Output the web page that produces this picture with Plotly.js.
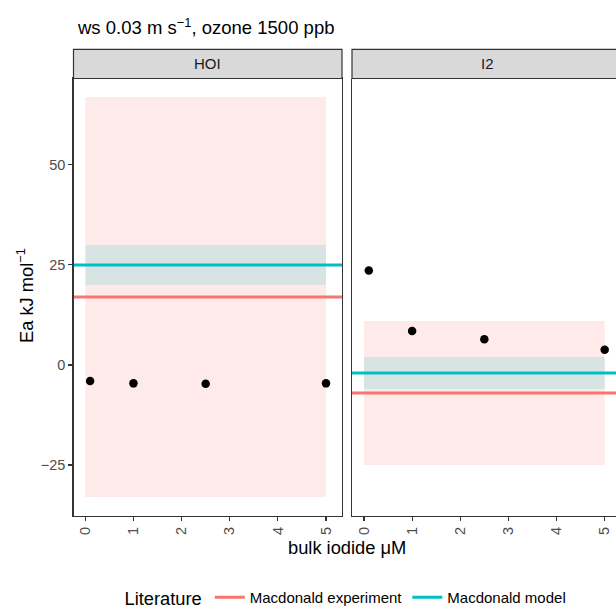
<!DOCTYPE html>
<html>
<head>
<meta charset="utf-8">
<script src="https://cdn.plot.ly/plotly-3.0.1.min.js"></script>
<style>
html,body{margin:0;padding:0;overflow:hidden;background:#fff;}
#chart{width:616px;height:608px;}
</style>
</head>
<body>
<div id="chart"></div>
<script>
// ---- data ----
const panels = ["HOI", "I2"];
const iodide = [0.1, 1, 2.5, 5];
const eaHOI = [-4.0, -4.6, -4.7, -4.6];
const eaI2 = [23.6, 8.5, 6.4, 3.8];
const litNames = ["Macdonald experiment", "Macdonald model"];
const litColors = ["#F8766D", "#00BFC4"];
// literature values per panel [HOI, I2]
const expEa = [17, -7];
const expLo = [-33, -25];
const expHi = [67, 11];
const modEa = [25, -2];
const modLo = [20, -6];
const modHi = [30, 2];
const bandX = [0, 5];
const xTicks = [0, 1, 2, 3, 4, 5];
const yTicks = [-25, 0, 25, 50];

// ---- layout geometry ----
const W = 616, H = 608;
const px = v => v / W, py = v => 1 - v / H;
const xRanges = [[-0.245, 5.332], [-0.249, 5.235]];
const yr = [-37.75, 71.6];
const panelX = [[73.5, 342], [352, 616]];
const stripX = [[73.5, 342], [352, 622]];
const panelY = [78.5, 516];
const stripY = [49.3, 78.5];
const FONT = "Liberation Sans, Arial, sans-serif";

const series = [eaHOI, eaI2];
const traces = [];
const shapes = [];
const annotations = [];
panels.forEach((p, i) => {
  const xa = i === 0 ? "x" : "x2";
  const ya = i === 0 ? "y" : "y2";
  // bands
  shapes.push({type: "rect", xref: xa, yref: ya, x0: bandX[0], x1: bandX[1],
    y0: expLo[i], y1: expHi[i], fillcolor: "rgba(248,118,109,0.15)", line: {width: 0}, layer: "below"});
  shapes.push({type: "rect", xref: xa, yref: ya, x0: bandX[0], x1: bandX[1],
    y0: modLo[i], y1: modHi[i], fillcolor: "rgba(0,191,196,0.15)", line: {width: 0}, layer: "below"});
  // hlines
  [expEa, modEa].forEach((arr, k) => {
    traces.push({type: "scatter", mode: "lines", x: xRanges[i], y: [arr[i], arr[i]], xaxis: xa, yaxis: ya,
      line: {color: litColors[k], width: 3}, name: litNames[k], showlegend: i === 0,
      legendgroup: litNames[k], hoverinfo: "skip"});
  });
  // points
  traces.push({type: "scatter", mode: "markers", x: iodide, y: series[i], xaxis: xa, yaxis: ya,
    marker: {color: "#000", size: 8.5}, showlegend: false});
  // strip
  shapes.push({type: "rect", xref: "paper", yref: "paper", x0: px(stripX[i][0]), x1: px(stripX[i][1]),
    y0: py(stripY[1]), y1: py(stripY[0]), fillcolor: "#D9D9D9", line: {color: "#333333", width: 1.2}});
  annotations.push({xref: "paper", yref: "paper", x: px((stripX[i][0] + stripX[i][1]) / 2), y: py(63),
    text: p, showarrow: false, xanchor: "center", yanchor: "middle",
    font: {family: FONT, size: 15, color: "#1A1A1A"}});
});

// axis titles
annotations.push({xref: "paper", yref: "paper", x: px(347), y: py(547), text: "bulk iodide μM",
  showarrow: false, xanchor: "center", yanchor: "middle",
  font: {family: FONT, size: 18.3, color: "#000"}});
annotations.push({xref: "paper", yref: "paper", x: px(25), y: py(296), text: "Ea kJ mol<sup>−1</sup>",
  showarrow: false, xanchor: "center", yanchor: "middle", textangle: -90,
  font: {family: FONT, size: 18.3, color: "#000"}});

const axBase = {
  showgrid: false, zeroline: false, showline: true, mirror: true, linecolor: "#333333", linewidth: 1.2,
  ticks: "outside", ticklen: 4, tickcolor: "#333333", tickwidth: 1.1,
  tickfont: {family: FONT, size: 14.5, color: "#4D4D4D"}, fixedrange: true, automargin: false
};
const layout = {
  width: W, height: H, margin: {l: 0, r: 0, t: 0, b: 0, autoexpand: false},
  paper_bgcolor: "#fff", plot_bgcolor: "#fff",
  font: {family: FONT},
  title: {text: "ws 0.03 m s<sup>−1</sup>, ozone 1500 ppb", x: px(78), xanchor: "left", xref: "paper",
    y: py(28), yanchor: "middle", yref: "paper",
    font: {family: FONT, size: 18.5, color: "#000"}},
  xaxis: Object.assign({}, axBase, {domain: [px(panelX[0][0]), px(panelX[0][1])], range: xRanges[0], anchor: "y",
    tickvals: xTicks, tickangle: -90}),
  xaxis2: Object.assign({}, axBase, {domain: [px(panelX[1][0]), px(panelX[1][1])], range: xRanges[1], anchor: "y2",
    tickvals: xTicks, tickangle: -90, mirror: false}),
  yaxis: Object.assign({}, axBase, {domain: [py(panelY[1]), py(panelY[0])], range: yr, anchor: "x",
    tickvals: yTicks}),
  yaxis2: Object.assign({}, axBase, {domain: [py(panelY[1]), py(panelY[0])], range: yr, anchor: "x2",
    tickvals: yTicks, showticklabels: false, ticks: "", mirror: false}),
  showlegend: true,
  legend: {orientation: "h", x: px(347), xanchor: "center", y: py(598), yanchor: "middle",
    font: {family: FONT, size: 15, color: "#000"},
    title: {text: "Literature", side: "left", font: {family: FONT, size: 18.3, color: "#000"}},
    bgcolor: "rgba(0,0,0,0)"},
  shapes: shapes, annotations: annotations
};
Plotly.newPlot("chart", traces, layout, {displayModeBar: false, staticPlot: true});
</script>
</body>
</html>
